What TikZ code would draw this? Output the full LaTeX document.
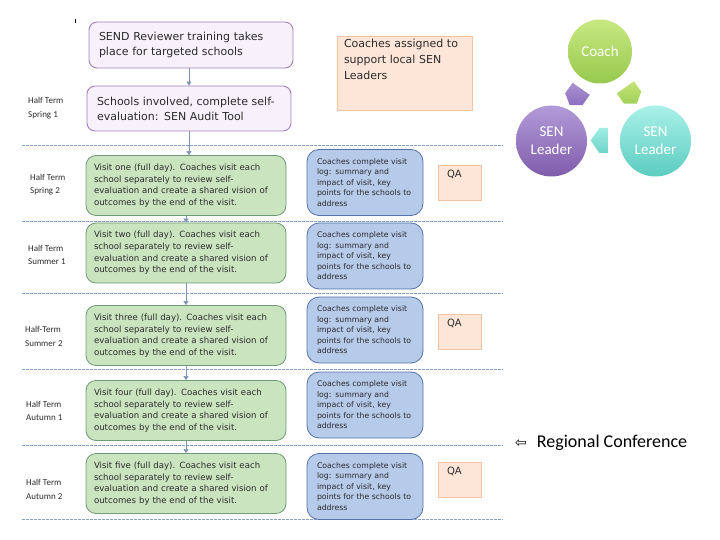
\documentclass[tikz,border=0pt]{standalone}
\usepackage{fontspec}
\setmainfont{DejaVu Sans}
\newfontfamily\carlito{Carlito}
\usetikzlibrary{arrows.meta, shapes.arrows}
\definecolor{lilacfill}{HTML}{F6F1FA}
\definecolor{lilacline}{HTML}{A47CC2}
\definecolor{peachfill}{HTML}{FDE6D8}
\definecolor{peachline}{HTML}{F2C3A2}
\definecolor{leaffill}{HTML}{CAE4BF}
\definecolor{leafline}{HTML}{6F9A78}
\definecolor{skyfill}{HTML}{B6CAEA}
\definecolor{skyline}{HTML}{5572AA}
\definecolor{termline}{HTML}{86A0C8}
\definecolor{linkgray}{HTML}{7E94B4}
\definecolor{inktext}{HTML}{2B2B2B}
\tikzset{
  planbox/.style={rounded corners=8pt, draw=lilacline, fill=lilacfill, line width=0.9pt,
    minimum width=204pt, minimum height=45pt, text width=184pt, align=left, inner sep=0pt,
    text=inktext, font=\fontsize{11}{15}\selectfont},
  visitbox/.style={rounded corners=10pt, draw=leafline, fill=leaffill, line width=0.8pt,
    minimum width=200pt, minimum height=60pt, text width=184pt, align=left, inner sep=0pt,
    text=inktext, font=\fontsize{8.6}{11.7}\selectfont},
  logbox/.style={rounded corners=12pt, draw=skyline, fill=skyfill, line width=0.8pt,
    minimum width=116pt, minimum height=66pt, text width=96pt, align=left, inner sep=0pt,
    text=inktext, font=\fontsize{7.75}{10.5}\selectfont},
  notebox/.style={draw=peachline, fill=peachfill, line width=0.8pt, inner sep=0pt,
    align=left, text=inktext},
  termlabel/.style={anchor=west, align=left, inner sep=0pt, text=inktext,
    font=\carlito\fontsize{9}{13.5}\selectfont},
  termrule/.style={termline, line width=0.8pt, dash pattern=on 2.5pt off 1.5pt},
  link/.style={linkgray, line width=0.6pt, -{Triangle[width=5pt,length=4pt]}},
  rolecircle/.style={circle, inner sep=0pt, text=white, align=center,
    font=\carlito\fontsize{15}{18}\selectfont},
  cyclearrow/.style={single arrow, single arrow head extend=0pt, single arrow tip angle=110,
    inner sep=0pt, minimum height=20pt, minimum width=21pt}
}
\begin{document}
\begin{tikzpicture}[x=1pt, y=-1pt]
  \useasboundingbox (0,0) rectangle (720,540);
  % --- half term rules ---------------------------------------------
  \foreach \y in {145,221,293,369,445,519}
    \draw[termrule] (22,\y) -- (503,\y);
  \draw[line width=0.8pt] (75,19) -- (75,23);
  % --- setup boxes -------------------------------------------------
  \node[planbox, minimum height=46pt] (p1) at (191,45)
    {SEND Reviewer training takes\\place for targeted schools};
  \node[planbox] (p2) at (189,108.5)
    {Schools involved, complete self-\\evaluation: SEN Audit Tool};
  \node[notebox, minimum width=135pt, minimum height=74pt, text width=121pt,
        font=\fontsize{11}{16}\selectfont, text height=8.4pt, text depth=58.4pt] (assign)
    at (404.5,73) {Coaches assigned to\\support local SEN\\Leaders};
  % --- term labels -------------------------------------------------
  \foreach \n/\x/\y/\t in {t1/28/108/{Half Term\\Spring 1}, t2/30/184.5/{Half Term\\Spring 2},
      t3/28/255/{Half Term\\Summer 1}, t4/25/336.5/{Half-Term\\Summer 2},
      t5/26/411/{Half Term\\Autumn 1}, t6/26/489.5/{Half Term\\Autumn 2}}
    \node[termlabel] (\n) at (\x,\y) {\t};
  % --- visits and visit logs ----------------------------------------
  \foreach \i/\num/\gy/\by in {1/one/185.5/182.5, 2/two/253/256, 3/three/335.5/330,
      4/four/410.5/405, 5/five/483.5/486.5} {
    \node[visitbox] (g\i) at (186,\gy) {Visit \num\ (full day). Coaches visit each\\school
      separately to review self-\\evaluation and create a shared vision of\\outcomes by
      the end of the visit.};
    \node[logbox] (b\i) at (365,\by)
      {Coaches complete visit\\log: summary and\\impact of visit, key\\points for the schools to\\address};
  }
  % --- QA ------------------------------------------------------------
  \foreach \n/\y in {qa1/183, qa3/331.5, qa5/479.5}
    \node[notebox, minimum width=43pt, minimum height=35pt, text width=25pt,
          font=\fontsize{10}{12}\selectfont, text height=7.3pt, text depth=17.3pt] (\n)
      at (459.5,\y) {QA};
  % --- flow ------------------------------------------------------------
  \draw[link] (p2.north |- p1.south) -- (p2.north);
  \draw[link] (p2.south) -- (p2.south |- g1.north);
  \foreach \i/\j in {1/2, 2/3, 3/4, 4/5}
    \draw[link] (g\i.south) -- (g\i.south |- g\j.north);
  % --- coaching cycle ------------------------------------------------
  \node[rolecircle, minimum size=64pt, top color={rgb,255:red,200;green,232;blue,128},
        bottom color={rgb,255:red,150;green,201;blue,78}] (coach) at (600,51.5) {Coach};
  \node[rolecircle, minimum size=71pt, top color={rgb,255:red,178;green,155;blue,216},
        bottom color={rgb,255:red,128;green,92;blue,172}] (lead1) at (551.5,141) {SEN\\Leader};
  \node[rolecircle, minimum size=71pt, top color={rgb,255:red,170;green,240;blue,232},
        bottom color={rgb,255:red,92;green,204;blue,192}] (lead2) at (655.5,141) {SEN\\Leader};
  \node[cyclearrow, rotate=235, top color={rgb,255:red,170;green,148;blue,212},
        bottom color={rgb,255:red,140;green,110;blue,190}] (c2l) at (577.5,94) {};
  \node[cyclearrow, rotate=305, top color={rgb,255:red,196;green,228;blue,120},
        bottom color={rgb,255:red,160;green,208;blue,88}] (c2r) at (629,92.5) {};
  \node[cyclearrow, rotate=180, minimum width=25pt, minimum height=18pt,
        top color={rgb,255:red,160;green,236;blue,228},
        bottom color={rgb,255:red,110;green,212;blue,200}] (r2l) at (604,140.5) {};
  % --- conference ----------------------------------------------------
  \node[anchor=west, inner sep=0pt, font=\carlito\fontsize{18}{20}\selectfont] (conf)
    at (515,443) {{\fontspec{DejaVu Sans}\fontsize{14}{16}\selectfont ⇦}\hspace{10pt}Regional Conference};
\end{tikzpicture}
\end{document}
